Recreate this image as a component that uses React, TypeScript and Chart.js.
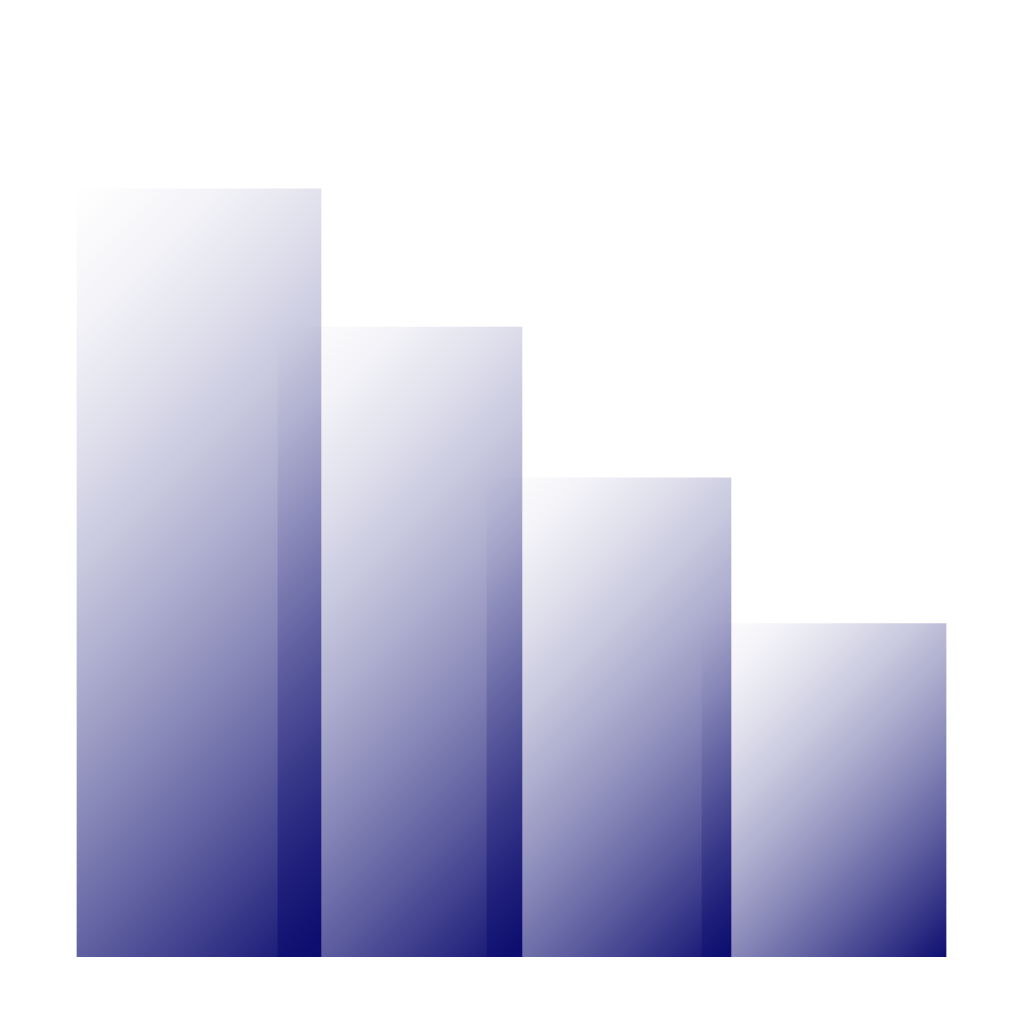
import { useEffect, useRef } from 'react';
import { Chart, registerables } from 'chart.js';

Chart.register(...registerables);

// where each bar sits on the (hidden) x axis, and how tall it is
const positions = [1, 2, 3.04, 4.11];
const values = [100, 82, 62.4, 43.4];

const BAR_WIDTH = 244;
const INK = '10, 10, 110';

// diagonal fade: clear at the top-left corner of each bar, deep navy at the bottom-right
const fillFor = (ctx: any) => {
  const chart = ctx.chart;
  const { x, y } = chart.scales;
  if (!chart.chartArea || !x || !y || !ctx.parsed) return 'rgba(0,0,0,0)';
  const left = x.getPixelForValue(ctx.parsed.x) - BAR_WIDTH / 2;
  const top = y.getPixelForValue(ctx.parsed.y);
  const bottom = y.getPixelForValue(0);
  const d = (BAR_WIDTH + bottom - top) / 2;
  const g = chart.ctx.createLinearGradient(left, top, left + d, top + d);
  // ease-in on the opacity so the top stays pale and the corner goes deep
  for (let i = 0; i <= 8; i++) {
    const t = i / 8;
    g.addColorStop(t, `rgba(${INK}, ${(0.98 * Math.pow(t, 1.5)).toFixed(3)})`);
  }
  return g;
};

const App: React.FC = () => {
  const chartRef = useRef<HTMLCanvasElement>(null);

  useEffect(() => {
    if (!chartRef.current) return;
    const chart = new Chart(chartRef.current, {
      type: 'bar',
      data: {
        datasets: [
          {
            data: positions.map((p, i) => ({ x: p, y: values[i] })),
            backgroundColor: fillFor,
            borderWidth: 0,
            barThickness: BAR_WIDTH,
          },
        ],
      },
      options: {
        responsive: true,
        maintainAspectRatio: false,
        animation: false,
        layout: { padding: { bottom: 67 } },
        plugins: {
          legend: { display: false },
          tooltip: { enabled: false },
        },
        scales: {
          x: { type: 'linear', display: false, min: 0.01, max: 5.105, offset: false, grid: { offset: false } },
          y: { display: false, min: 0, max: 124.6 },
        },
      },
    });
    return () => chart.destroy();
  }, []);

  return (
    <div style={{ position: 'fixed', left: 0, top: 0, width: 1024, height: 1024, background: '#fff' }}>
      <canvas ref={chartRef} />
    </div>
  );
};

export default App;
